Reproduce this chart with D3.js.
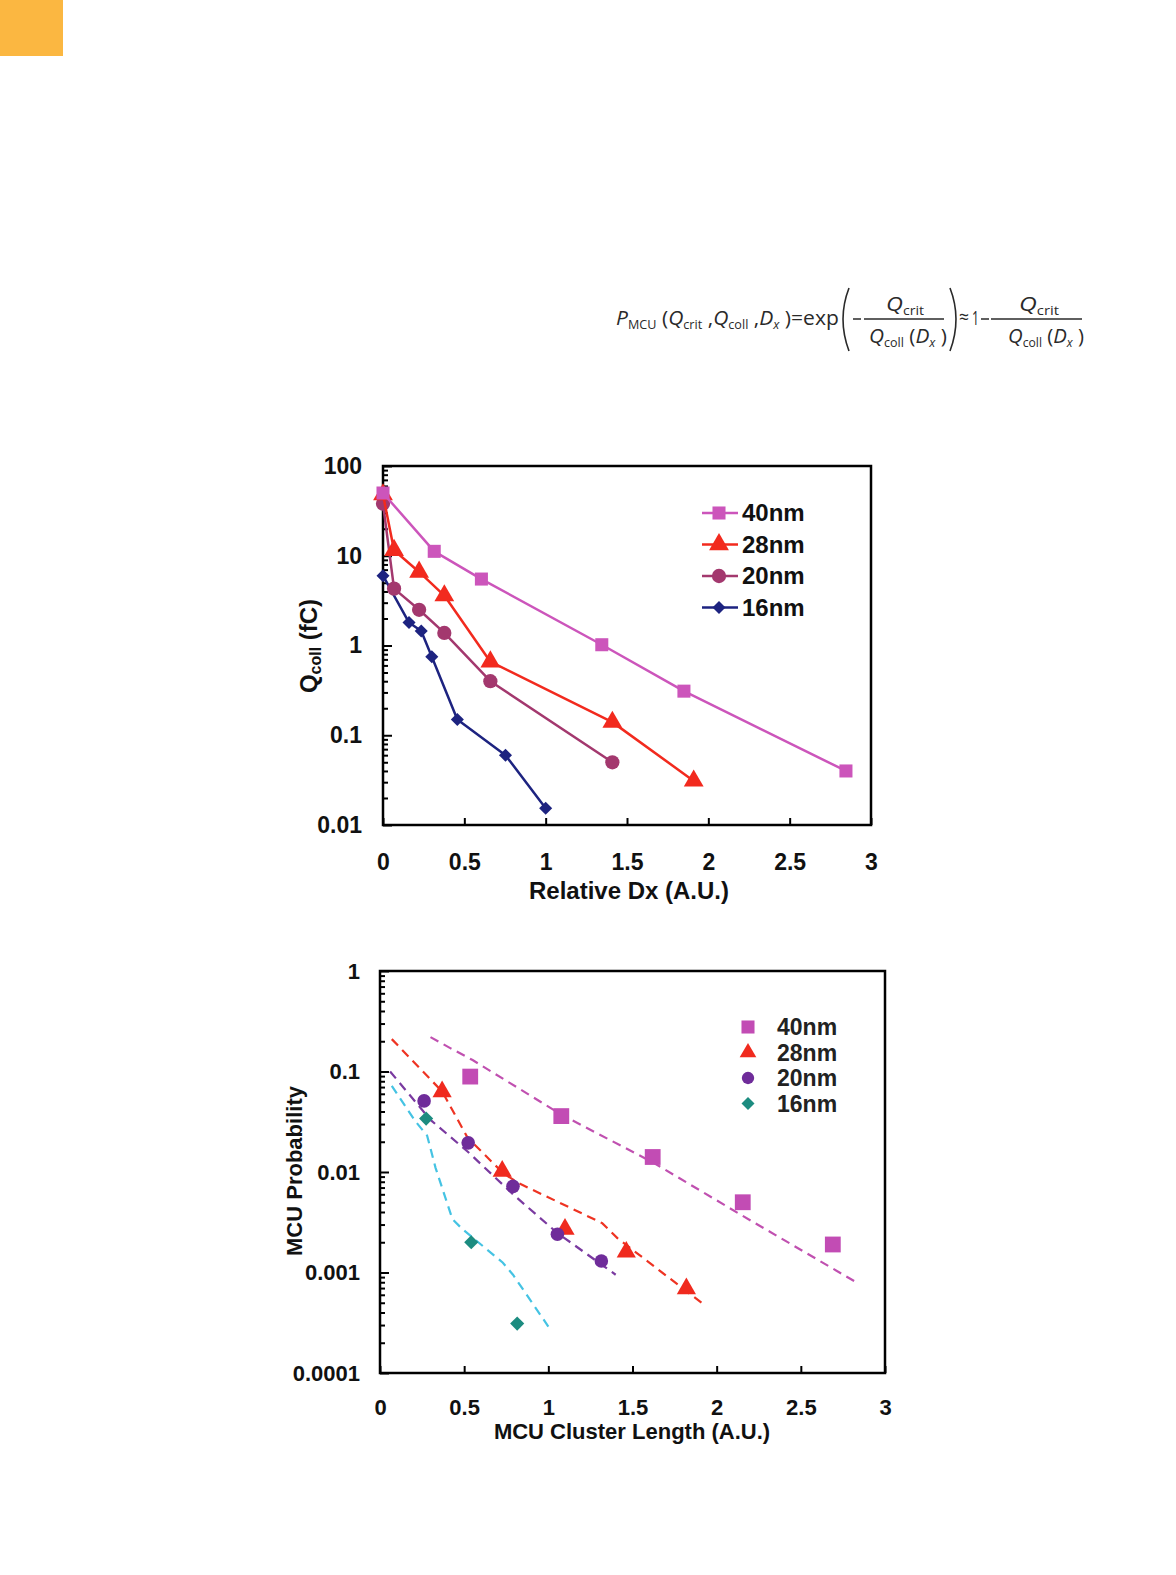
<!DOCTYPE html>
<html lang="en">
<head>
<meta charset="utf-8">
<title>Qcoll and MCU probability</title>
<script src="https://d3js.org/d3.v7.min.js"></script>
<style>
html, body { margin: 0; padding: 0; background: #fff; overflow: hidden; }
svg { display: block; }
svg text { font-family: "Liberation Sans", Arial, sans-serif; }
</style>
</head>
<body>
<div id="chart"></div>
<script>
// ---- data ----
var nodes = ["40nm", "28nm", "20nm", "16nm"];

// top: Qcoll (fC) vs relative Dx
var qX40 = [0, 0.315, 0.605, 1.345, 1.85, 2.846];
var qY40 = [50, 11.2, 5.5, 1.02, 0.31, 0.040];
var qX28 = [0, 0.068, 0.222, 0.377, 0.66, 1.41, 1.91];
var qY28 = [48, 11.5, 6.6, 3.6, 0.66, 0.14, 0.031];
var qX20 = [0, 0.068, 0.222, 0.377, 0.66, 1.41];
var qY20 = [38, 4.3, 2.5, 1.38, 0.40, 0.050];
var qX16 = [0, 0.16, 0.235, 0.30, 0.457, 0.753, 1.0];
var qY16 = [6.0, 1.8, 1.45, 0.75, 0.15, 0.06, 0.0154];

// bottom: MCU probability vs MCU cluster length (measured points)
var pX40 = [0.536, 1.077, 1.62, 2.155, 2.69];
var pY40 = [0.089, 0.036, 0.0141, 0.0050, 0.0019];
var pX28 = [0.369, 0.726, 1.099, 1.463, 1.82];
var pY28 = [0.063, 0.0102, 0.0027, 0.0016, 0.00069];
var pX20 = [0.262, 0.524, 0.79, 1.054, 1.315];
var pY20 = [0.051, 0.0195, 0.0072, 0.0024, 0.0013];
var pX16 = [0.274, 0.542, 0.815];
var pY16 = [0.034, 0.0020, 0.00031];

// bottom: dashed model curves
var fX40 = [0.3, 0.42, 0.55, 1.08, 1.62, 2.15, 2.84];
var fY40 = [0.22, 0.17, 0.13, 0.037, 0.0125, 0.0037, 0.00078];
var fX28 = [0.07, 0.37, 0.52, 0.73, 0.82, 1.32, 1.41, 1.91];
var fY28 = [0.21, 0.063, 0.022, 0.0098, 0.0078, 0.0031, 0.0022, 0.0005];
var fX20 = [0.06, 0.3, 0.52, 0.79, 1.05, 1.4];
var fY20 = [0.1, 0.033, 0.016, 0.006, 0.0025, 0.00095];
var fX16 = [0.07, 0.21, 0.28, 0.33, 0.43, 0.49, 0.73, 0.79, 1.0];
var fY16 = [0.072, 0.032, 0.023, 0.011, 0.0034, 0.0027, 0.00125, 0.00095, 0.00029];

var xTicks = [0, 0.5, 1, 1.5, 2, 2.5, 3];
var xTickLabels = ["0", "0.5", "1", "1.5", "2", "2.5", "3"];
var topYTicks = [0.01, 0.1, 1, 10, 100];
var topYLabels = ["0.01", "0.1", "1", "10", "100"];
var botYTicks = [0.0001, 0.001, 0.01, 0.1, 1];
var botYLabels = ["0.0001", "0.001", "0.01", "0.1", "1"];

var topColors = ["#cc55bb", "#f22a1e", "#a3386e", "#1d2380"];
var botMarkColors = ["#c24cb4", "#f02a1e", "#6f2c9a", "#1c8c80"];
var botLineColors = ["#c050b0", "#ee3322", "#7a3aa0", "#45c3e3"];
var symbols = [d3.symbolSquare, d3.symbolTriangle, d3.symbolCircle, d3.symbolSquare];

function zip(xs, ys) { return xs.map((x, i) => [x, ys[i]]); }
var topSeries = [zip(qX40, qY40), zip(qX28, qY28), zip(qX20, qY20), zip(qX16, qY16)];
var botPoints = [zip(pX40, pY40), zip(pX28, pY28), zip(pX20, pY20), zip(pX16, pY16)];
var botFits = [zip(fX40, fY40), zip(fX28, fY28), zip(fX20, fY20), zip(fX16, fY16)];

var W = 1176, H = 1575;
var svg = d3.select("#chart").append("svg").attr("width", W).attr("height", H);

// orange corner block
svg.append("rect").attr("x", 0).attr("y", 0).attr("width", 63).attr("height", 56).attr("fill", "#fbb741");

// ---- formula ----
var ink = "#2a2a2a";
var fg = svg.append("g").attr("fill", ink);

// place a run of text pieces, then squeeze it to span x0..x1
function run(x0, x1, base, pieces) {
  var t = fg.append("text").attr("y", base).attr("font-size", 20)
    .style("font-family", "'Open Sans', sans-serif");
  pieces.forEach(function(p) {
    var s = t.append("tspan").text(p.t);
    if (p.i) s.attr("font-style", "italic");
    if (p.sub) s.attr("font-size", 12).attr("dy", 4);
    if (p.up) s.attr("dy", -4);
  });
  var w = t.node().getComputedTextLength();
  t.attr("transform", `translate(${x0},0) scale(${(x1 - x0) / w},1)`);
  return t;
}
function hline(x0, x1, yy, sw) {
  fg.append("line").attr("x1", x0).attr("x2", x1).attr("y1", yy).attr("y2", yy)
    .attr("stroke", ink).attr("stroke-width", sw);
}

run(616, 839, 325, [
  {t: "P", i: true}, {t: "MCU", sub: true}, {t: " (", up: true}, {t: "Q", i: true}, {t: "crit", sub: true},
  {t: " ,", up: true}, {t: "Q", i: true}, {t: "coll", sub: true}, {t: " ,", up: true}, {t: "D", i: true},
  {t: "x", i: true, sub: true}, {t: " )", up: true}, {t: "=exp"}
]);

function paren(x, open) {
  var d = open ? `M${x + 7},288 Q${x - 5},319 ${x + 7},351` : `M${x},288 Q${x + 12},319 ${x},351`;
  fg.append("path").attr("d", d).attr("fill", "none").attr("stroke", ink).attr("stroke-width", 1.6);
}
paren(842, true);
paren(950, false);

function frac(barX0, barX1, numX0, numX1, denX0, denX1) {
  hline(barX0, barX1, 319, 1.3);
  run(numX0, numX1, 311, [{t: "Q", i: true}, {t: "crit", sub: true}]);
  run(denX0, denX1, 343, [{t: "Q", i: true}, {t: "coll", sub: true}, {t: " (", up: true},
    {t: "D", i: true}, {t: "x", i: true, sub: true}, {t: " )", up: true}]);
}
hline(853, 861, 319, 1.5);
frac(864, 944, 886, 924, 869, 947);
run(959, 969, 324, [{t: "\u2248"}]);
run(972, 979, 325, [{t: "1"}]);
hline(981, 989, 319, 1.5);
frac(991, 1082, 1019, 1059, 1008, 1084);

// ---- panels ----
function minorTicks(lo, hi) {
  var out = [];
  for (var e = lo; e < hi; e++) for (var m = 2; m <= 9; m++) out.push(m * Math.pow(10, e));
  return out;
}

function panel(o) {
  var x = d3.scaleLinear().domain([0, 3]).range([o.left, o.right]);
  var y = d3.scaleLog().domain(o.yDomain).range([o.bottom, o.top]);
  var g = svg.append("g");

  // minor y ticks
  g.append("g").attr("transform", `translate(${o.left},0)`)
    .call(d3.axisLeft(y).tickValues(minorTicks(Math.round(Math.log10(o.yDomain[0])), Math.round(Math.log10(o.yDomain[1]))))
      .tickSize(-5).tickFormat(""))
    .call(a => a.select(".domain").remove())
    .selectAll("line").attr("stroke", "#000").attr("stroke-width", 2);

  // major y ticks + labels
  g.append("g").attr("transform", `translate(${o.left},0)`)
    .call(d3.axisLeft(y).tickValues(o.yTicks).tickSize(-9).tickPadding(o.yPad)
      .tickFormat((d, i) => o.yLabels[i]))
    .call(a => a.select(".domain").remove())
    .call(a => a.selectAll("line").attr("stroke", "#000").attr("stroke-width", 2))
    .selectAll("text").attr("font-size", o.fs).attr("font-weight", "bold").attr("fill", "#111");

  // x ticks + labels
  g.append("g").attr("transform", `translate(0,${o.bottom})`)
    .call(d3.axisBottom(x).tickValues(xTicks).tickSize(-7).tickPadding(o.xPad)
      .tickFormat((d, i) => xTickLabels[i]))
    .call(a => a.select(".domain").remove())
    .call(a => a.selectAll("line").attr("stroke", "#000").attr("stroke-width", 2))
    .selectAll("text").attr("font-size", o.fs).attr("font-weight", "bold").attr("fill", "#111");

  // frame
  g.append("rect").attr("x", o.left).attr("y", o.top)
    .attr("width", o.right - o.left).attr("height", o.bottom - o.top)
    .attr("fill", "none").attr("stroke", "#000").attr("stroke-width", 2.5);

  return {g: g, x: x, y: y};
}

// top chart
var upper = panel({left: 383, right: 871, top: 466, bottom: 825, yDomain: [0.01, 100],
  yTicks: topYTicks, yLabels: topYLabels, yPad: 21, xPad: 29, fs: 23});

var topLine = d3.line().x(d => upper.x(d[0])).y(d => upper.y(d[1]));
var sizesTop = [170, 170, 160, 85];
topSeries.slice().reverse().forEach(function(s, ri) {
  var i = 3 - ri;
  upper.g.append("path").datum(s).attr("d", topLine).attr("fill", "none")
    .attr("stroke", topColors[i]).attr("stroke-width", 2.5).attr("stroke-linejoin", "round");
  upper.g.selectAll(null).data(s).enter().append("path")
    .attr("d", d3.symbol().type(symbols[i]).size(sizesTop[i]))
    .attr("transform", d => `translate(${upper.x(d[0])},${upper.y(d[1])})` + (i === 3 ? " rotate(45)" : ""))
    .attr("fill", topColors[i]);
});

// top legend
var tl = upper.g.append("g");
nodes.forEach(function(n, i) {
  var yy = 513 + i * 31.5;
  tl.append("line").attr("x1", 702).attr("x2", 738).attr("y1", yy).attr("y2", yy)
    .attr("stroke", topColors[i]).attr("stroke-width", 2.5);
  tl.append("path").attr("d", d3.symbol().type(symbols[i]).size(sizesTop[i]))
    .attr("transform", `translate(719,${yy})` + (i === 3 ? " rotate(45)" : ""))
    .attr("fill", topColors[i]);
  tl.append("text").attr("x", 742).attr("y", yy + 8).text(n)
    .attr("font-size", 24).attr("font-weight", "bold").attr("fill", "#111");
});

// top axis titles
svg.append("text").attr("x", 629).attr("y", 899).attr("text-anchor", "middle")
  .attr("font-size", 24).attr("font-weight", "bold").attr("fill", "#111").text("Relative Dx (A.U.)");
var qt = svg.append("text").attr("transform", "translate(317,646) rotate(-90)").attr("text-anchor", "middle")
  .attr("font-size", 24).attr("font-weight", "bold").attr("fill", "#111");
qt.append("tspan").text("Q");
qt.append("tspan").text("coll").attr("font-size", 16).attr("dy", 4);
qt.append("tspan").text(" (fC)").attr("dy", -4);

// bottom chart
var lower = panel({left: 380, right: 885, top: 971, bottom: 1373, yDomain: [0.0001, 1],
  yTicks: botYTicks, yLabels: botYLabels, yPad: 20, xPad: 26, fs: 22});

var botLine = d3.line().x(d => lower.x(d[0])).y(d => lower.y(d[1]));
var sizesBot = [250, 160, 145, 100];
botFits.forEach(function(s, i) {
  lower.g.append("path").datum(s).attr("d", botLine).attr("fill", "none")
    .attr("stroke", botLineColors[i]).attr("stroke-width", 2.2).attr("stroke-dasharray", "9,6");
});
botPoints.forEach(function(s, i) {
  lower.g.selectAll(null).data(s).enter().append("path")
    .attr("d", d3.symbol().type(symbols[i]).size(sizesBot[i]))
    .attr("transform", d => `translate(${lower.x(d[0])},${lower.y(d[1])})` + (i === 3 ? " rotate(45)" : ""))
    .attr("fill", botMarkColors[i]);
});

// bottom legend
var bl = lower.g.append("g");
nodes.forEach(function(n, i) {
  var yy = 1027 + i * 25.5;
  bl.append("path").attr("d", d3.symbol().type(symbols[i]).size([170, 120, 120, 85][i]))
    .attr("transform", `translate(748,${yy})` + (i === 3 ? " rotate(45)" : ""))
    .attr("fill", botMarkColors[i]);
  bl.append("text").attr("x", 777).attr("y", yy + 8).text(n)
    .attr("font-size", 23).attr("font-weight", "bold").attr("fill", "#222");
});

svg.append("text").attr("x", 632).attr("y", 1439).attr("text-anchor", "middle")
  .attr("font-size", 22).attr("font-weight", "bold").attr("fill", "#111").text("MCU Cluster Length (A.U.)");
svg.append("text").attr("transform", "translate(302,1171) rotate(-90)").attr("text-anchor", "middle")
  .attr("font-size", 22).attr("font-weight", "bold").attr("fill", "#111").text("MCU Probability");
</script>
</body>
</html>
